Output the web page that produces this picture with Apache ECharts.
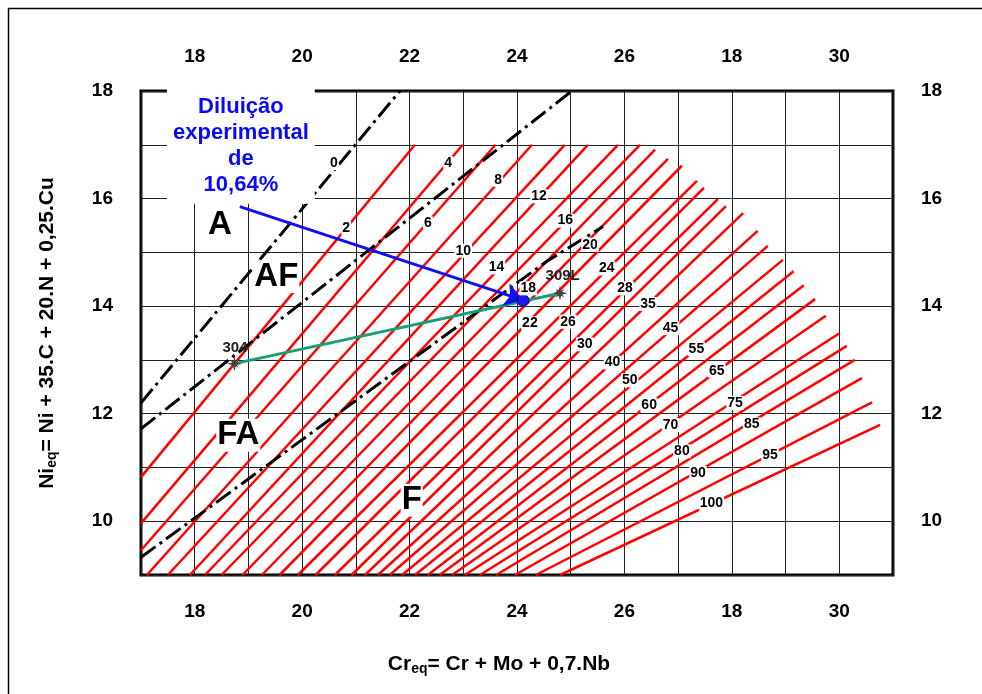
<!DOCTYPE html>
<html><head><meta charset="utf-8">
<script src="https://cdn.jsdelivr.net/npm/echarts@6/dist/echarts.min.js"></script>
<style>html,body{margin:0;padding:0;background:#fff}#c{width:982px;height:694px}</style>
</head><body><div id="c"></div>
<script>
// ---- data ----
const xTicks = [18, 20, 22, 24, 26, 28, 30];
const xTickText = ['18', '20', '22', '24', '26', '18', '30'];
const yTicks = [10, 12, 14, 16, 18];

const fnValues = [2,4,6,8,10,12,14,16,18,20,22,24,26,28,30,35,40,45,50,55,60,65,70,75,80,85,90,95,100];
const fnBaseX = [17,17,17,17.11,17.50,17.91,18.19,18.50,18.89,19.25,19.58,19.92,20.25,20.61,20.92,21.17,21.41,21.63,21.86,22.10,22.34,22.56,22.79,23.03,23.31,23.61,23.96,24.35,24.80];
const fnBaseY = [10.82,9.96,9.46,9,9,9,9,9,9,9,9,9,9,9,9,9,9,9,9,9,9,9,9,9,9,9,9,9,9];
const fnTopX = [22.10,22.99,23.60,24.28,24.89,25.32,25.88,26.29,26.57,26.81,27.07,27.35,27.48,27.74,27.89,28.21,28.48,28.67,28.95,29.15,29.34,29.55,29.75,30.01,30.14,30.29,30.42,30.61,30.76];
const fnTopY = [17,17,17,17,17,17,17,17,16.91,16.74,16.61,16.33,16.20,15.99,15.86,15.73,15.40,15.12,14.86,14.65,14.39,14.13,13.82,13.50,13.26,13.00,12.66,12.21,11.79];

const labelText = ['0','2','4','6','8','10','12','14','16','18','20','22','24','26','28','30','35','40','45','50','55','60','65','70','75','80','85','90','95','100'];
const labelX = [20.59,20.82,22.72,22.34,23.65,23.00,24.41,23.62,24.90,24.21,25.36,24.24,25.67,24.95,26.01,25.26,26.44,25.78,26.86,26.10,27.34,26.46,27.72,26.86,28.06,27.07,28.37,27.37,28.71,27.62];
const labelY = [16.66,15.45,16.66,15.54,16.35,15.03,16.04,14.72,15.59,14.33,15.14,13.68,14.70,13.71,14.33,13.29,14.04,12.95,13.59,12.62,13.20,12.16,12.80,11.79,12.20,11.30,11.80,10.90,11.23,10.33];

const boundaryA_AF = [[17, 12.20], [21.82, 18]];
const boundaryAF_FA = [[17, 11.72], [25.02, 18]];
const boundaryFA_F = [[17, 9.33], [24.55, 14.83], [25.60, 15.48]];

const regionNames = ['A', 'AF', 'FA', 'F'];
const regionX = [18.47, 19.52, 18.81, 22.04];
const regionY = [15.51, 14.55, 11.60, 10.39];

const alloyNames = ['304', '309L'];
const alloyX = [18.74, 24.80];
const alloyY = [12.93, 14.24];
const alloyLabelX = [18.75, 24.85];
const alloyLabelY = [13.22, 14.57];

const dilutionPoint = [24.11, 14.11];
const arrowStart = [18.84, 15.85];
const dilutionText = ['Diluição', 'experimental', 'de', '10,64%'];
const dilutionTextPos = [18.86, 16.98];

// ---- chart ----
const FONT = 'Liberation Sans, Arial, sans-serif';
const chart = echarts.init(document.getElementById('c'), null, {renderer: 'canvas'});

const fnLines = fnValues.map((v, i) => ({name: 'FN ' + v, coords: [[fnBaseX[i], fnBaseY[i]], [fnTopX[i], fnTopY[i]]]}));
const xFmt = v => { const i = xTicks.indexOf(v); return i >= 0 ? xTickText[i] : ''; };
const yFmt = v => (yTicks.indexOf(v) >= 0 ? String(v) : '');
const tickLabel = {fontFamily: FONT, fontWeight: 'bold', fontSize: 19, color: '#000'};
const dashDot = {color: '#000', width: 3, type: [18, 5, 3, 5], opacity: 1};
const rich = {
  b: {fontFamily: FONT, fontWeight: 'bold', fontSize: 21, color: '#000'},
  s: {fontFamily: FONT, fontWeight: 'bold', fontSize: 14, color: '#000', padding: [10, 0, 0, 0]}
};
const plainText = {textBorderWidth: 0, textShadowBlur: 0, textBorderColor: 'transparent', opacity: 1};
const solid = {opacity: 1};

const option = {
  backgroundColor: '#fff',
  animation: false,
  grid: {left: 141, top: 91, width: 752, height: 484, show: true, borderColor: '#000', borderWidth: 3, backgroundColor: 'transparent'},
  graphic: [{type: 'polyline', shape: {points: [[8.5, 700], [8.5, 8.5], [990, 8.5]]}, style: {stroke: '#000', lineWidth: 1.5, fill: null}}],
  xAxis: [
    {type: 'value', position: 'bottom', min: 17, max: 31, interval: 1,
     axisLine: {show: false}, axisTick: {show: false},
     axisLabel: Object.assign({formatter: xFmt, margin: 27, showMinLabel: true, showMaxLabel: true}, tickLabel),
     splitLine: {show: true, lineStyle: {color: '#222', width: 1}},
     name: '{b|Cr}{s|eq}{b|= Cr + Mo + 0,7.Nb}', nameLocation: 'middle', nameGap: 77,
     nameTextStyle: {rich: rich, padding: [0, 36, 0, 0]}},
    {type: 'value', position: 'top', min: 17, max: 31, interval: 1,
     axisLine: {show: false}, axisTick: {show: false},
     axisLabel: Object.assign({formatter: xFmt, margin: 25, showMinLabel: true, showMaxLabel: true}, tickLabel),
     splitLine: {show: false}}
  ],
  yAxis: [
    {type: 'value', position: 'left', min: 9, max: 18, interval: 1,
     axisLine: {show: false}, axisTick: {show: false},
     axisLabel: Object.assign({formatter: yFmt, margin: 28, showMinLabel: true, showMaxLabel: true}, tickLabel),
     splitLine: {show: true, lineStyle: {color: '#222', width: 1}},
     name: '{b|Ni}{s|eq}{b|= Ni + 35.C + 20.N + 0,25.Cu}', nameLocation: 'middle', nameGap: 82, nameRotate: 90,
     nameTextStyle: {rich: rich}},
    {type: 'value', position: 'right', min: 9, max: 18, interval: 1,
     axisLine: {show: false}, axisTick: {show: false},
     axisLabel: Object.assign({formatter: yFmt, margin: 28, showMinLabel: true, showMaxLabel: true}, tickLabel),
     splitLine: {show: false}}
  ],
  series: [
    {type: 'lines', coordinateSystem: 'cartesian2d', xAxisIndex: 0, yAxisIndex: 0, z: 3,
     lineStyle: {color: '#ff0000', width: 2.5, opacity: 1}, data: fnLines},
    {type: 'line', xAxisIndex: 0, yAxisIndex: 0, data: boundaryA_AF, symbol: 'none', lineStyle: dashDot, z: 4},
    {type: 'line', xAxisIndex: 0, yAxisIndex: 0, data: boundaryAF_FA, symbol: 'none', lineStyle: dashDot, z: 4},
    {type: 'line', xAxisIndex: 0, yAxisIndex: 0, data: boundaryFA_F, symbol: 'none', lineStyle: dashDot, z: 4},
    // tie line 304 - 309L
    {type: 'line', xAxisIndex: 0, yAxisIndex: 0, symbol: 'none', z: 5,
     data: alloyX.map((x, i) => [x, alloyY[i]]), lineStyle: {color: '#1a9e78', width: 3, opacity: 1}},
    // alloy markers
    {type: 'scatter', z: 6, symbol: 'path://M5 0 L6 4 L10 5 L6 6 L5 10 L4 6 L0 5 L4 4 Z', symbolSize: 15,
     itemStyle: {color: '#444', opacity: 1}, data: alloyX.map((x, i) => [x, alloyY[i]])},
    {type: 'scatter', z: 6, symbol: 'path://M5 0 L6 4 L10 5 L6 6 L5 10 L4 6 L0 5 L4 4 Z', symbolSize: 12, symbolRotate: 45,
     itemStyle: {color: '#444', opacity: 1}, data: alloyX.map((x, i) => [x, alloyY[i]])},
    // arrow
    {type: 'lines', coordinateSystem: 'cartesian2d', z: 7, symbol: ['none', 'arrow'], symbolSize: 18,
     lineStyle: {color: '#1010f0', width: 3, opacity: 1},
     data: [{coords: [arrowStart, dilutionPoint]}]},
    {type: 'scatter', z: 8, symbol: 'circle', symbolSize: 12,
     itemStyle: {color: '#1a1aee', borderColor: '#000080', borderWidth: 1, opacity: 1},
     data: [dilutionPoint]},
    // FN labels
    {type: 'scatter', z: 10, symbolSize: 0, silent: true, itemStyle: solid,
     data: labelText.map((t, i) => ({value: [labelX[i], labelY[i]], name: t})),
     label: Object.assign({show: true, position: 'inside', formatter: p => p.name, fontFamily: FONT, fontWeight: 'bold', fontSize: 14,
       color: '#000', backgroundColor: '#fff', padding: [0, 1, 0, 1]}, plainText)},
    // alloy labels
    {type: 'scatter', z: 10, symbolSize: 0, silent: true, itemStyle: solid,
     data: alloyNames.map((t, i) => ({value: [alloyLabelX[i], alloyLabelY[i]], name: t})),
     label: Object.assign({show: true, position: 'inside', formatter: p => p.name, fontFamily: FONT, fontWeight: 'bold', fontSize: 15, color: '#222'}, plainText)},
    // region labels
    {type: 'scatter', z: 10, symbolSize: 0, silent: true, itemStyle: solid,
     data: regionNames.map((t, i) => ({value: [regionX[i], regionY[i]], name: t})),
     label: Object.assign({show: true, position: 'inside', formatter: p => p.name, fontFamily: FONT, fontWeight: 'bold', fontSize: 33,
       color: '#000', backgroundColor: '#fff', padding: [0, 1, 0, 1]}, plainText)},
    // dilution text
    {type: 'scatter', z: 11, symbolSize: 0, silent: true, itemStyle: solid,
     data: [{value: dilutionTextPos, name: dilutionText.join('\n')}],
     label: Object.assign({show: true, position: 'inside', formatter: p => p.name, fontFamily: FONT, fontWeight: 'bold', fontSize: 22,
       lineHeight: 26, color: '#0a0af5', backgroundColor: '#fff', padding: [3, 6, 9, 6], align: 'center'}, plainText)}
  ]
};
chart.setOption(option);
</script>
</body></html>
